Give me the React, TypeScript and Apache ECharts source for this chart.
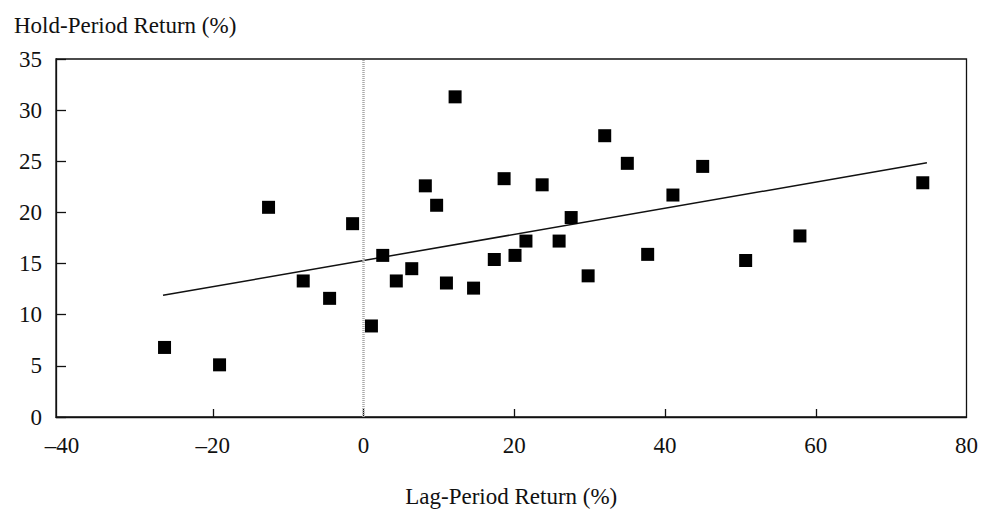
import React, { useEffect, useRef } from "react";
import * as echarts from "echarts";

const lagReturns = [
  -26.4, -19.1, -12.6, -8.0, -4.5, -1.45, 1.05, 2.55, 4.35, 6.4, 8.2, 9.7, 11.0,
  12.15, 14.6, 17.35, 18.65, 20.1, 21.55, 23.7, 25.95, 27.55, 29.8, 32.0, 35.0,
  37.7, 41.05, 45.0, 50.7, 57.9, 74.2,
];
const holdReturns = [
  6.8, 5.1, 20.5, 13.3, 11.6, 18.9, 8.9, 15.8, 13.3, 14.5, 22.6, 20.7, 13.1, 31.3,
  12.6, 15.4, 23.3, 15.8, 17.2, 22.7, 17.2, 19.5, 13.8, 27.5, 24.8, 15.9, 21.7,
  24.5, 15.3, 17.7, 22.9,
];
const trendX = [-26.6, 74.75];
const trendY = [11.9, 24.85];
const xLabelValues = [-40, -20, 0, 20, 40, 60, 80];
const xTickValues = [-20, 0, 20, 40, 60];
const xRange = { min: -40.8, max: 80 };
const yTicks = { min: 0, max: 35, interval: 5 };

const FONT = "'Liberation Serif', 'DejaVu Serif', serif";
const FS = 23;

export default function App() {
  const ref = useRef<HTMLDivElement>(null);
  useEffect(() => {
    if (!ref.current) return;
    const chart = echarts.init(ref.current, undefined, { renderer: "svg" });
    const points = lagReturns.map((x, i) => [x, holdReturns[i]]);
    const trend = trendX.map((x, i) => [x, trendY[i]]);
    chart.setOption({
      animation: false,
      backgroundColor: "#fff",
      title: {
        text: "Hold-Period Return (%)",
        left: 9,
        top: 9,
        textStyle: { fontFamily: FONT, fontSize: FS, fontWeight: "normal", color: "#111" },
      },
      grid: { left: 56, right: 12, top: 59, bottom: 94, show: true, borderColor: "#111", borderWidth: 1.3, backgroundColor: "transparent" },
      xAxis: {
        type: "value",
        min: xRange.min,
        max: xRange.max,
        name: "Lag-Period Return (%)",
        nameLocation: "middle",
        nameGap: 68,
        nameTextStyle: { fontFamily: FONT, fontSize: FS, color: "#111" },
        axisLine: { show: true, onZero: false, lineStyle: { color: "#111", width: 1.3 } },
        axisTick: {
          show: true,
          inside: true,
          length: 8,
          customValues: xTickValues,
          lineStyle: { color: "#111", width: 1.3 },
        },
        axisLabel: {
          fontFamily: FONT,
          fontSize: FS,
          color: "#111",
          margin: 17,
          customValues: xLabelValues,
          formatter: (v: number) => String(v).replace("-", "\u2013"),
        },
        splitLine: { show: false },
      },
      yAxis: {
        type: "value",
        min: yTicks.min,
        max: yTicks.max,
        interval: yTicks.interval,
        axisLine: { show: true, onZero: false, lineStyle: { color: "#111", width: 1.3 } },
        axisTick: { show: true, inside: true, length: 10, lineStyle: { color: "#111", width: 1.3 } },
        axisLabel: { fontFamily: FONT, fontSize: FS, color: "#111", margin: 14 },
        splitLine: { show: false },
      },
      series: [
        {
          type: "line",
          data: trend,
          symbol: "none",
          lineStyle: { color: "#111", width: 1.5 },
          silent: true,
          z: 2,
          markLine: {
            silent: true,
            symbol: "none",
            label: { show: false },
            lineStyle: { color: "#aaa", type: [1, 1], width: 2.5 },
            data: [{ xAxis: 0 }],
          },
        },
        {
          type: "scatter",
          data: points,
          symbol: "rect",
          symbolSize: 13,
          itemStyle: { color: "#000", opacity: 1 },
          z: 3,
        },
      ],
    });
    return () => chart.dispose();
  }, []);
  return (
    <div
      ref={ref}
      style={{ position: "fixed", left: 0, top: 0, width: 981, height: 513 }}
    />
  );
}
